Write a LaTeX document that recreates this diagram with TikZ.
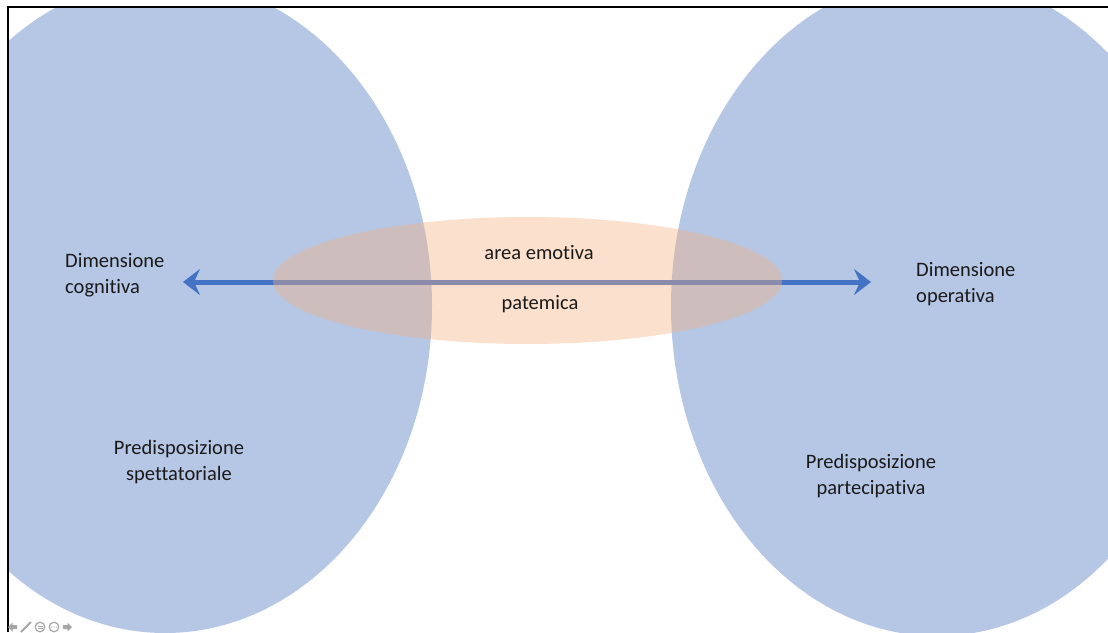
\documentclass[tikz,border=0pt]{standalone}
\usepackage{fontspec}
\setmainfont{Carlito}[Ligatures=NoCommon, RawFeature=-liga]
\usetikzlibrary{arrows.meta}
\definecolor{blueell}{HTML}{B6C6E5}
\definecolor{peach}{HTML}{F4B183}
\definecolor{arrowblue}{HTML}{4472C4}
\definecolor{txt}{HTML}{1A1A1A}
\definecolor{icongrey}{HTML}{A6A6A6}
\tikzset{
  bigell/.style={fill=blueell},
  midell/.style={fill=peach, fill opacity=0.4},
  dimarrow/.style={draw=arrowblue, line width=5pt,
    {Stealth[length=17pt, width=26pt, inset=6pt]}-{Stealth[length=17pt, width=26pt, inset=6pt]}},
  lbl/.style={text=txt, font=\fontsize{20.5}{26}\selectfont, inner sep=0pt},
  icon/.style={fill=icongrey, draw=none},
  iconline/.style={draw=icongrey, line width=1.2pt}
}
\begin{document}
\begin{tikzpicture}[x=1pt, y=-1pt]
\useasboundingbox (0,0) rectangle (1108,632);
\begin{scope}
  \clip (8,7) rectangle (1108,632);
  \fill[bigell] (165,306) ellipse [x radius=267, y radius=327];
  \fill[bigell] (937,306) ellipse [x radius=266, y radius=330];
  \coordinate (aL) at (183,282);
  \coordinate (aR) at (871,282);
  \draw[dimarrow] (aL) -- (aR);
  \fill[midell] (527.5,280.5) ellipse [x radius=254.5, y radius=63.5];
\end{scope}
% frame
\coordinate (fBL) at (7.5,632);
\coordinate (fTL) at (7.5,6.5);
\coordinate (fTR) at (1108,6.5);
\draw[line width=2pt, black] (fBL) -- (fTL) -- (fTR);
% labels
\node[lbl, anchor=west, align=left] (dcog) at (65,275) {Dimensione\\cognitiva};
\node[lbl, anchor=west, align=left] (dop) at (916,284) {Dimensione\\operativa};
\node[lbl] (area) at (539,253) {area emotiva};
\node[lbl] (pat) at (540,304) {patemica};
\node[lbl, align=center] (pspet) at (179,462.5) {Predisposizione\\spettatoriale};
\node[lbl, align=center] (ppart) at (871,476) {Predisposizione\\partecipativa};
% slideshow icons
\fill[icon] (8,627) -- (12.5,622.5) -- (12.5,625) -- (17,625) -- (17,629) -- (12.5,629) -- (12.5,631.5) -- cycle;
\draw[iconline, line width=2pt] (21,632) -- (31,622);
\draw[iconline] (40,627) circle [radius=4.8];
\draw[iconline, line width=0.8pt] (37.5,626) -- (42.5,626) (37.5,628.5) -- (42.5,628.5);
\draw[iconline] (54,627) circle [radius=4.8];
\fill[icongrey] (51.8,627) circle [radius=0.7] (54,627) circle [radius=0.7] (56.2,627) circle [radius=0.7];
\fill[icon] (72,627) -- (67.5,622.5) -- (67.5,625) -- (63,625) -- (63,629) -- (67.5,629) -- (67.5,631.5) -- cycle;
\end{tikzpicture}
\end{document}
